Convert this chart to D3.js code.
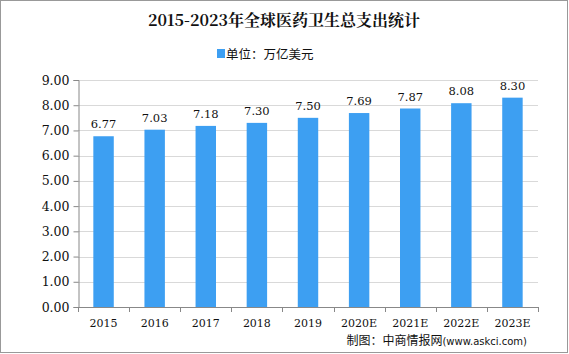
<!DOCTYPE html>
<html>
<head>
<meta charset="utf-8">
<script src="https://cdn.jsdelivr.net/npm/d3@7"></script>
<style>
  body { margin: 0; background: #fff; }
  svg { display: block; }
</style>
</head>
<body>
<svg id="chart" width="569" height="354"></svg>
<script>
  const years = ["2015", "2016", "2017", "2018", "2019", "2020E", "2021E", "2022E", "2023E"];
  const spending = [6.77, 7.03, 7.18, 7.30, 7.50, 7.69, 7.87, 8.08, 8.30];
  const yTicks = [0, 1, 2, 3, 4, 5, 6, 7, 8, 9];

  const svg = d3.select("#chart");
  const serif = "'DejaVu Serif', 'Liberation Serif', 'Noto Sans CJK SC', serif";
  const cjk = "'Noto Sans CJK SC', sans-serif";

  // frame
  svg.append("rect").attr("x", 0.5).attr("y", 0.5).attr("width", 567).attr("height", 352)
    .attr("fill", "#fff").attr("stroke", "#999");

  const margin = { top: 80, left: 78, right: 31, bottom: 47 };
  const w = 569 - margin.left - margin.right;
  const h = 354 - margin.top - margin.bottom;
  const g = svg.append("g").attr("transform", `translate(${margin.left},${margin.top})`);

  const x = d3.scaleBand().domain(years).range([0, w]).paddingInner(0.6).paddingOuter(0.3);
  const xEdge = d3.scaleBand().domain(years).range([0, w]);
  const y = d3.scaleLinear().domain([0, 9]).range([h, 0]);

  // Grid lines
  g.selectAll(".grid").data(yTicks.slice(1)).enter().append("line")
    .attr("x1", 0).attr("x2", w)
    .attr("y1", d => Math.round(y(d)) + 0.5).attr("y2", d => Math.round(y(d)) + 0.5)
    .attr("stroke", "#d9d9d9");

  // Y axis
  const yAxis = g.append("g").attr("transform", "translate(0.5,0)")
    .call(d3.axisLeft(y).tickValues(yTicks).tickSize(5).tickFormat(d3.format(".2f")));
  yAxis.selectAll("text").attr("font-family", serif).attr("font-size", 12.5).attr("fill", "#111").attr("dx", "-1");
  yAxis.selectAll(".domain, .tick line").attr("stroke", "#888");

  // X axis line + boundary ticks
  g.append("line").attr("x1", 0).attr("x2", w).attr("y1", h + 0.5).attr("y2", h + 0.5).attr("stroke", "#888");
  g.selectAll(".xtick").data(years.concat(["end"])).enter().append("line")
    .attr("x1", (d, i) => Math.round(i * xEdge.bandwidth()) + 0.5)
    .attr("x2", (d, i) => Math.round(i * xEdge.bandwidth()) + 0.5)
    .attr("y1", h).attr("y2", h + 5).attr("stroke", "#888");
  g.selectAll(".xlabel").data(years).enter().append("text")
    .attr("x", d => xEdge(d) + xEdge.bandwidth() / 2)
    .attr("y", h + 20)
    .attr("text-anchor", "middle").attr("font-family", serif).attr("font-size", 11).attr("fill", "#111")
    .text(d => d);

  // Bars
  g.selectAll(".bar").data(spending).enter().append("rect")
    .attr("x", (d, i) => x(years[i]))
    .attr("y", d => y(d))
    .attr("width", x.bandwidth())
    .attr("height", d => h - y(d))
    .attr("fill", "#3d9ff2");

  // Value labels
  g.selectAll(".val").data(spending).enter().append("text")
    .attr("x", (d, i) => x(years[i]) + x.bandwidth() / 2)
    .attr("y", d => y(d) - 8)
    .attr("text-anchor", "middle").attr("font-family", serif).attr("font-size", 11.5).attr("fill", "#111")
    .text(d => d.toFixed(2));

  // Title
  svg.append("text").attr("x", 284).attr("y", 26).attr("text-anchor", "middle")
    .attr("font-family", "'Noto Serif CJK SC', 'Noto Sans CJK SC', serif").attr("font-size", 16).attr("font-weight", "bold")
    .attr("fill", "#111").text("2015-2023年全球医药卫生总支出统计");

  // Legend
  svg.append("rect").attr("x", 217).attr("y", 49).attr("width", 8).attr("height", 9).attr("fill", "#3d9ff2");
  svg.append("text").attr("x", 226).attr("y", 58.5).attr("font-family", cjk).attr("font-size", 12.5)
    .attr("fill", "#111").text("单位：万亿美元");

  // Source
  svg.append("text").attr("x", 527).attr("y", 345).attr("text-anchor", "end")
    .attr("fill", "#111")
    .call(t => {
      t.append("tspan").attr("font-family", cjk).attr("font-size", 12).text("制图：中商情报网");
      t.append("tspan").attr("font-family", "'DejaVu Sans', sans-serif").attr("font-size", 10).text("(www.askci.com)");
    });
</script>
</body>
</html>
